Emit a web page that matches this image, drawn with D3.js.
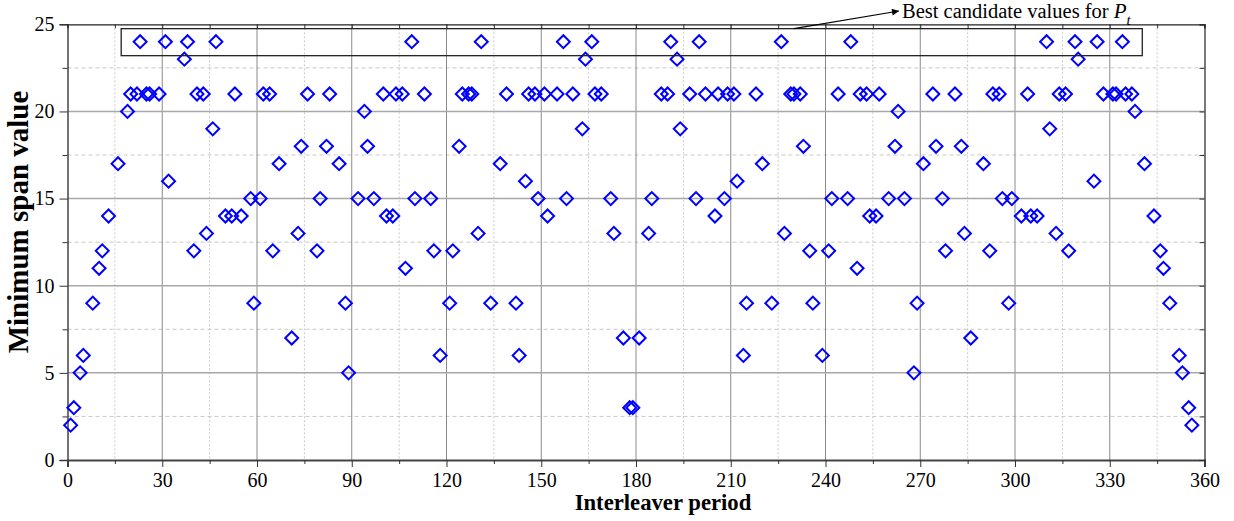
<!DOCTYPE html>
<html>
<head>
<meta charset="utf-8">
<script src="https://cdn.jsdelivr.net/npm/d3@7"></script>
<style>
  html, body { margin: 0; padding: 0; background: #fff; }
  svg { display: block; }
  text { font-family: "Liberation Serif", "Times New Roman", serif; fill: #000; }
</style>
</head>
<body>
<svg id="chart" width="1234" height="521"></svg>
<script>
// ---- data ----
const periods = [
  1,2,4,5,8,10,11,13,16,19,20,22,23,25,26,29,31,32,37,38,40,41,43,44,46,47,50,52,53,55,
  58,59,61,62,64,65,67,71,73,74,76,79,80,82,83,86,88,89,92,94,95,97,100,101,103,104,106,107,109,110,
  113,115,116,118,121,122,124,125,127,128,130,131,134,137,139,142,143,145,146,148,149,151,152,155,157,158,160,163,164,166,
  167,169,172,173,176,178,
  179,181,184,185,188,190,191,193,194,197,199,200,202,205,206,208,209,211,212,214,215,218,220,223,226,227,229,230,232,233,
  235,236,239,241,242,244,247,248,250,251,253,254,256,257,260,262,263,265,268,269,271,274,275,277,278,281,283,284,286,290,
  292,293,295,296,298,299,302,304,305,307,310,311,313,314,316,317,319,320,325,326,328,331,332,334,335,337,338,341,344,346,
  347,349,352,353,355,356
];
const minSpan = [
  2,3,5,6,9,11,12,14,17,20,21,21,24,21,21,21,24,16,23,24,12,21,21,13,19,24,14,14,21,14,
  15,9,15,21,21,12,17,7,13,18,21,12,15,18,21,17,9,5,15,20,18,15,21,14,14,21,21,11,24,15,
  21,15,12,6,9,12,18,21,21,21,13,24,9,17,21,9,6,16,21,21,15,21,14,21,24,15,21,19,23,24,
  21,21,15,13,7,3,
  3,7,13,15,21,21,24,23,19,21,15,24,21,14,21,15,21,21,16,6,9,21,17,9,24,13,21,21,21,18,
  12,9,6,12,15,21,15,24,11,21,21,14,14,21,15,18,20,15,5,9,17,21,18,15,12,21,18,13,7,17,
  12,21,21,15,9,15,14,21,14,14,24,19,13,21,21,12,24,23,16,24,21,21,21,24,21,21,20,17,14,12,
  11,9,6,5,3,2
];
const xTicks = [0,30,60,90,120,150,180,210,240,270,300,330,360];
const xMinorTicks = [15,45,75,105,135,165,195,225,255,285,315,345];
const yTicks = [0,5,10,15,20,25];
const yMinorTicks = [2.5,7.5,12.5,17.5,22.5];
const xTitle = "Interleaver period";
const yTitle = "Minimum span value";
const noteText = "Best candidate values for ";

// ---- layout ----
const W = 1234, H = 521;
const L = 67.5, R = 1204.5, T = 24.3, B = 460;
const svg = d3.select("#chart");
const x = d3.scaleLinear().domain([0, 360]).range([L, R]);
const y = d3.scaleLinear().domain([0, 25]).range([B, T]);

// grid
const grid = svg.append("g");
grid.selectAll(".vminor").data(xMinorTicks).join("line")
  .attr("x1", d => x(d)).attr("x2", d => x(d)).attr("y1", T).attr("y2", B)
  .attr("stroke", "#c8c8c8").attr("stroke-width", 1).attr("stroke-dasharray", "2,2");
grid.selectAll(".hminor").data(yMinorTicks).join("line")
  .attr("x1", L).attr("x2", R).attr("y1", d => y(d)).attr("y2", d => y(d))
  .attr("stroke", "#c8c8c8").attr("stroke-width", 1).attr("stroke-dasharray", "4,3");
grid.selectAll(".vmajor").data(xTicks.slice(1, -1)).join("line")
  .attr("x1", d => x(d)).attr("x2", d => x(d)).attr("y1", T).attr("y2", B)
  .attr("stroke", "#8a8a8a").attr("stroke-width", 1);
grid.selectAll(".hmajor").data(yTicks.slice(1, -1)).join("line")
  .attr("x1", L).attr("x2", R).attr("y1", d => y(d)).attr("y2", d => y(d))
  .attr("stroke", "#a8a8a8").attr("stroke-width", 1.5);

// axes (outer ticks)
const xAxis = d3.axisBottom(x).tickValues(xTicks).tickSize(7).tickPadding(6).tickFormat(d3.format("d"));
const gx = svg.append("g").attr("transform", `translate(0,${B})`).call(xAxis);
gx.select(".domain").attr("stroke", "#444").attr("stroke-width", 2);
gx.selectAll(".tick line").attr("stroke", "#333").attr("stroke-width", 1);
gx.selectAll(".tick text").attr("font-size", 20).attr("font-family", "Liberation Serif").attr("fill", "#000");
svg.append("g").attr("transform", `translate(0,${B})`)
  .call(d3.axisBottom(x).tickValues(xMinorTicks).tickSize(4).tickFormat(""))
  .call(g => g.select(".domain").remove())
  .selectAll("line").attr("stroke", "#333");

const yAxis = d3.axisLeft(y).tickValues(yTicks).tickSize(8).tickPadding(5).tickFormat(d3.format("d"));
const gy = svg.append("g").attr("transform", `translate(${L},0)`).call(yAxis);
gy.select(".domain").attr("stroke", "#444").attr("stroke-width", 1.5);
gy.selectAll(".tick line").attr("stroke", "#333");
gy.selectAll(".tick text").attr("font-size", 20).attr("font-family", "Liberation Serif").attr("fill", "#000");
svg.append("g").attr("transform", `translate(${L},0)`)
  .call(d3.axisLeft(y).tickValues(yMinorTicks).tickSize(5).tickFormat(""))
  .call(g => g.select(".domain").remove())
  .selectAll("line").attr("stroke", "#333");

// top & right (inner ticks)
svg.append("g").attr("transform", `translate(0,${T})`)
  .call(d3.axisTop(x).tickValues(xTicks.concat(xMinorTicks)).tickSize(-4).tickFormat(""))
  .call(g => g.select(".domain").attr("stroke", "#222").attr("stroke-width", 1.2))
  .selectAll("line").attr("stroke", "#333");
svg.append("g").attr("transform", `translate(${R},0)`)
  .call(d3.axisRight(y).tickValues(yTicks.concat(yMinorTicks)).tickSize(-5).tickFormat(""))
  .call(g => g.select(".domain").attr("stroke", "#222").attr("stroke-width", 1.2))
  .selectAll("line").attr("stroke", "#333");

// points
const pts = periods.map((p, i) => ({ p, v: minSpan[i] }));
const diamond = d3.symbol().type(d3.symbolSquare).size(84)();
svg.append("g").selectAll("path").data(pts).join("path")
  .attr("d", diamond)
  .attr("transform", d => `translate(${x(d.p)},${y(d.v)}) rotate(45)`)
  .attr("fill", "none").attr("stroke", "#0000ff").attr("stroke-width", 2);

// annotation rectangle around best candidates
const boxX0 = 17, boxX1 = 340.3, boxY0 = 23.2, boxY1 = 24.75;
svg.append("rect")
  .attr("x", x(boxX0)).attr("y", y(boxY1))
  .attr("width", x(boxX1) - x(boxX0)).attr("height", y(boxY0) - y(boxY1))
  .attr("fill", "none").attr("stroke", "#222").attr("stroke-width", 1.3);

// arrow
svg.append("defs").append("marker")
  .attr("id", "arrowhead").attr("viewBox", "0 0 10 10").attr("refX", 10).attr("refY", 5)
  .attr("markerWidth", 14).attr("markerHeight", 7).attr("markerUnits", "userSpaceOnUse")
  .attr("orient", "auto")
  .append("path").attr("d", "M0,0 L10,5 L0,10 Z").attr("fill", "#000");
svg.append("line")
  .attr("x1", x(230)).attr("y1", y(boxY1))
  .attr("x2", 899).attr("y2", 11)
  .attr("stroke", "#000").attr("stroke-width", 1.2)
  .attr("marker-end", "url(#arrowhead)");

const note = svg.append("text").attr("x", 902).attr("y", 18).attr("font-size", 20.5);
note.append("tspan").text(noteText);
note.append("tspan").attr("font-style", "italic").attr("font-size", 21).text("P");
note.append("tspan").attr("font-style", "italic").attr("font-size", 15).attr("dy", 7).text("t");

// titles
svg.append("text").attr("x", 663).attr("y", 510)
  .attr("text-anchor", "middle").attr("font-size", 22.7).attr("font-weight", "bold").text(xTitle);
svg.append("text").attr("transform", `translate(28,222) rotate(-90)`)
  .attr("text-anchor", "middle").attr("font-size", 29).attr("font-weight", "bold").text(yTitle);
</script>
</body>
</html>
